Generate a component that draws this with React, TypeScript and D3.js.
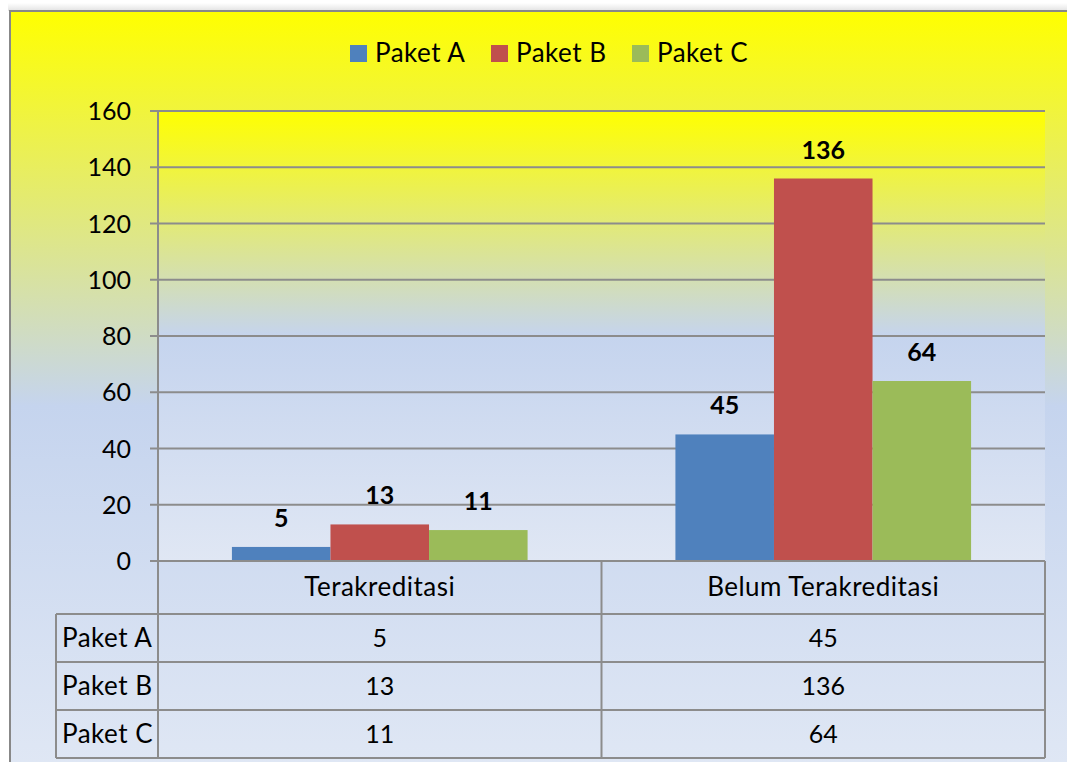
import React from 'react';
import * as d3 from 'd3';

// chart data
const categories = ['Terakreditasi', 'Belum Terakreditasi'];
const series = ['Paket A', 'Paket B', 'Paket C'];
const paketA = [5, 45];
const paketB = [13, 136];
const paketC = [11, 64];
const yTicks = [0, 20, 40, 60, 80, 100, 120, 140, 160];

const values = [paketA, paketB, paketC];
const colors = ['#4F81BD', '#C0504D', '#9BBB59'];

const FONT = 'Lato, "Noto Sans", sans-serif';
const FS = 25; // digits
const FS_WORD = 26; // words, slightly wider to mimic Calibri
const LS_WORD = 0.5;
const GRID = '#8C8C8C';

export default function App() {
  const W = 1067;
  const H = 762;

  // plot box
  const left = 158;
  const right = 1045;
  const top = 111;
  const bottom = 561;
  const rowH = 48;
  const headH = 53;
  const tableLeft = 56;

  const y = d3.scaleLinear().domain([0, 160]).range([bottom, top]);
  const x0 = d3.scaleBand<string>().domain(categories).range([left, right]).padding(0);
  // gap width 150% -> 0.75 bar each side
  const x1 = d3.scaleBand<string>().domain(series).range([0, x0.bandwidth()])
    .paddingInner(0).paddingOuter(0.75);

  const tableBottom = bottom + headH + rowH * series.length;

  return (
    <svg width={W} height={H} style={{ position: 'absolute', left: 0, top: 0 }}
      fontFamily={FONT}>
      <defs>
        <linearGradient id="bgGrad" x1="0" y1="0" x2="0" y2="1">
          <stop offset="0" stopColor="#FFFF00" />
          <stop offset="0.5" stopColor="#C5D4EE" />
          <stop offset="1" stopColor="#E2E9F5" />
        </linearGradient>
        <linearGradient id="plotGrad" x1="0" y1="0" x2="0" y2="1">
          <stop offset="0" stopColor="#FFFF00" />
          <stop offset="0.5" stopColor="#C5D4EE" />
          <stop offset="1" stopColor="#E0E7F4" />
        </linearGradient>
        <linearGradient id="shadow" x1="0" y1="0" x2="0" y2="1">
          <stop offset="0" stopColor="#FFFFFF" />
          <stop offset="1" stopColor="#E2E2E2" />
        </linearGradient>
      </defs>
      <rect x={0} y={0} width={W} height={H} fill="#FFFFFF" />
      <rect x={8} y={3} width={W} height={8} fill="url(#shadow)" />
      {/* chart area */}
      <rect x={10} y={11} width={1100} height={790} fill="url(#bgGrad)"
        stroke="#888888" strokeWidth={2} />
      {/* plot area */}
      <rect x={left} y={top} width={right - left} height={bottom - top} fill="url(#plotGrad)" />

      {/* legend */}
      <g>
        {series.map((s, i) => (
          <g key={s} transform={`translate(${350 + i * 141},0)`}>
            <rect x={0} y={45} width={17} height={17} fill={colors[i]} />
            <text x={25} y={62} fontSize={FS_WORD} letterSpacing={LS_WORD} fill="#000">{s}</text>
          </g>
        ))}
      </g>

      {/* gridlines and y ticks */}
      {yTicks.map(t => (
        <g key={t}>
          <line x1={left - 8} x2={right} y1={y(t)} y2={y(t)} stroke={GRID} strokeWidth={2} />
          <text x={131} y={y(t) + 9} fontSize={FS} textAnchor="end" fill="#000">{t}</text>
        </g>
      ))}

      {/* bars */}
      {categories.map((c, ci) => (
        <g key={c} transform={`translate(${x0(c)},0)`}>
          {series.map((s, si) => {
            const v = values[si][ci];
            const bx = x1(s) as number;
            return (
              <g key={s}>
                <rect x={bx} y={y(v)} width={x1.bandwidth()} height={bottom - y(v)} fill={colors[si]} />
                <text x={bx + x1.bandwidth() / 2} y={y(v) - 20} fontSize={FS} fontWeight="bold"
                  textAnchor="middle" fill="#000">{v}</text>
              </g>
            );
          })}
        </g>
      ))}

      {/* data table */}
      <g stroke={GRID} strokeWidth={2} fill="none">
        <line x1={left} x2={right} y1={bottom} y2={bottom} />
        <line x1={left} x2={left} y1={top} y2={tableBottom} />
        <line x1={right} x2={right} y1={bottom} y2={tableBottom} />
        {categories.slice(1).map(c => (
          <line key={c} x1={x0(c)} x2={x0(c)} y1={bottom} y2={tableBottom} />
        ))}
        <line x1={tableLeft} x2={tableLeft} y1={bottom + headH} y2={tableBottom} />
        {series.map((s, i) => (
          <line key={s} x1={tableLeft} x2={right}
            y1={bottom + headH + rowH * (i + 1)} y2={bottom + headH + rowH * (i + 1)} />
        ))}
        <line x1={tableLeft} x2={right} y1={bottom + headH} y2={bottom + headH} />
      </g>
      {categories.map(c => (
        <text key={c} x={(x0(c) as number) + x0.bandwidth() / 2} y={bottom + 35} fontSize={FS_WORD}
          letterSpacing={LS_WORD} textAnchor="middle" fill="#000">{c}</text>
      ))}
      {series.map((s, si) => (
        <g key={s}>
          <text x={62} y={bottom + headH + rowH * si + 33} fontSize={FS_WORD} letterSpacing={LS_WORD}
            fill="#000">{s}</text>
          {categories.map((c, ci) => (
            <text key={c} x={(x0(c) as number) + x0.bandwidth() / 2} y={bottom + headH + rowH * si + 33}
              fontSize={FS} textAnchor="middle" fill="#000">{values[si][ci]}</text>
          ))}
        </g>
      ))}
    </svg>
  );
}
